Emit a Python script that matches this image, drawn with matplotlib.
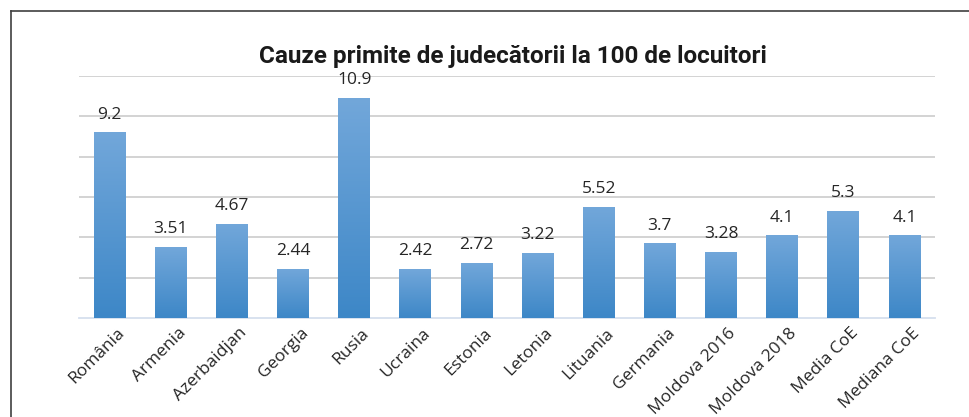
import matplotlib
matplotlib.use("Agg")
import matplotlib.pyplot as plt
import matplotlib.transforms as mtransforms
import numpy as np
from matplotlib.colors import LinearSegmentedColormap

categories = ["România", "Armenia", "Azerbaidjan", "Georgia", "Rusia", "Ucraina",
              "Estonia", "Letonia", "Lituania", "Germania", "Moldova 2016",
              "Moldova 2018", "Media CoE", "Mediana CoE"]
values = [9.2, 3.51, 4.67, 2.44, 10.9, 2.42, 2.72, 3.22, 5.52, 3.7, 3.28, 4.1, 5.3, 4.1]
value_labels = ["9.2", "3.51", "4.67", "2.44", "10.9", "2.42", "2.72", "3.22",
                "5.52", "3.7", "3.28", "4.1", "5.3", "4.1"]
title = "Cauze primite de judecătorii la 100 de locuitori"

fig = plt.figure(figsize=(9.7, 4.17), dpi=100)
ax = fig.add_axes([79/970, 1-318/417, (935-79)/970, (318-76)/417])

x = np.arange(len(categories))
bars = ax.bar(x, values, width=0.52, color="none", edgecolor="none", zorder=3)

cmap = LinearSegmentedColormap.from_list("g", ["#3d87c7", "#72a7da"])
grad = np.linspace(0, 1, 256).reshape(-1, 1)
for b in bars:
    x0, y0 = b.get_x(), b.get_y()
    w, h = b.get_width(), b.get_height()
    im = ax.imshow(grad, cmap=cmap, origin="lower", aspect="auto",
                   extent=[x0, x0 + w, y0, y0 + h], zorder=3)
    im.set_clip_path(b)

for xi, v, lab in zip(x, values, value_labels):
    ax.annotate(lab, (xi, v), xytext=(0, 7), textcoords="offset points",
                ha="center", va="bottom", fontsize=12.5,
                family="Open Sans", color="#262626", zorder=4)

ax.set_xlim(-0.5, len(categories) - 0.5)
ax.set_ylim(0, 12)
ax.set_yticks(np.arange(2, 13, 2))
ax.yaxis.grid(True, color="#d0d0d0", linewidth=1.3, zorder=0)
ax.set_axisbelow(True)
ax.tick_params(axis="y", length=0, labelleft=False)
ax.tick_params(axis="x", length=0, pad=8)
for s in ["top", "right", "left"]:
    ax.spines[s].set_visible(False)
ax.spines["bottom"].set_color("#d6dfee")
ax.spines["bottom"].set_linewidth(1.3)
ax.set_xticks(x)
ax.set_xticklabels(categories, rotation=45, ha="right", rotation_mode="anchor",
                   fontsize=12.5, family="Open Sans", color="#262626")
shift = mtransforms.ScaledTranslation(7/100, 4/100, fig.dpi_scale_trans)
for lbl in ax.get_xticklabels():
    lbl.set_transform(lbl.get_transform() + shift)

fig.text(513/970, 1-56/417, title, ha="center", va="center", fontsize=17.5,
         family="Roboto", weight="bold", color="#1a1a1a")

# frame border (left and top)
fig.add_artist(plt.Line2D([11/970, 11/970], [0, 1-11/417], color="#404040",
                          linewidth=1.2, transform=fig.transFigure))
fig.add_artist(plt.Line2D([11/970, 1], [1-11/417, 1-11/417], color="#404040",
                          linewidth=1.2, transform=fig.transFigure))

fig.savefig("out.png", dpi=100)
